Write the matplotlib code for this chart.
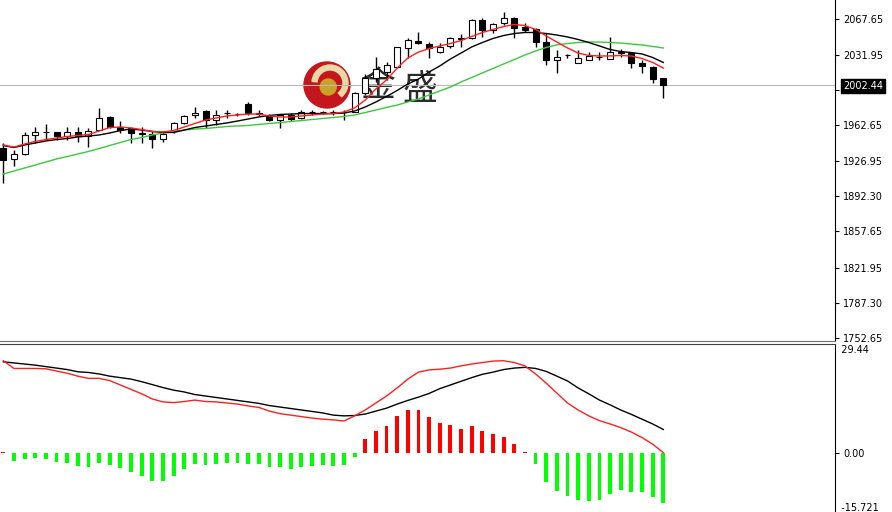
import numpy as np
import matplotlib.pyplot as plt
from matplotlib.patches import Circle, Wedge

# daily candles (price)
opens = [1940.1, 1929.3, 1933.9, 1953.0, 1955.7, 1955.7, 1952.0, 1956.3, 1952.3, 1957.9,
         1970.5, 1961.2, 1960.2, 1954.0, 1953.7, 1948.7, 1957.0, 1964.5, 1972.8, 1977.0,
         1967.8, 1974.5, 1973.5, 1983.3, 1974.5, 1971.8, 1967.8, 1972.8, 1969.5, 1975.4,
         1975.4, 1976.0, 1975.4, 1976.0, 1994.2, 2009.3, 2015.6, 2020.5, 2038.7, 2045.9,
         2042.6, 2035.3, 2041.3, 2048.0, 2048.6, 2066.7, 2056.8, 2063.4, 2068.3, 2060.0,
         2057.8, 2045.2, 2027.0, 2031.8, 2024.5, 2027.1, 2029.6, 2027.8, 2035.3, 2033.7,
         2024.5, 2020.5, 2009.0]
highs = [1945.1, 1938.2, 1955.7, 1960.6, 1963.9, 1956.3, 1960.6, 1961.2, 1959.6, 1980.0,
         1972.0, 1967.1, 1961.2, 1961.2, 1957.0, 1956.3, 1966.1, 1972.5, 1980.9, 1977.5,
         1977.7, 1977.7, 1975.0, 1985.3, 1977.7, 1973.8, 1973.5, 1974.5, 1977.7, 1977.7,
         1976.5, 1977.7, 1977.7, 1995.8, 2013.3, 2030.4, 2025.4, 2040.3, 2048.6, 2055.1,
         2044.6, 2043.6, 2050.2, 2052.5, 2067.6, 2068.3, 2063.4, 2074.9, 2070.0, 2063.4,
         2058.4, 2053.8, 2036.9, 2032.7, 2037.0, 2035.3, 2035.3, 2050.2, 2037.7, 2035.3,
         2027.1, 2021.2, 2009.0]
lows = [1905.5, 1922.6, 1933.0, 1944.8, 1948.0, 1948.0, 1948.0, 1946.4, 1941.4, 1957.9,
        1960.0, 1954.7, 1944.8, 1944.8, 1939.9, 1946.4, 1954.7, 1963.9, 1969.5, 1959.6,
        1962.9, 1969.5, 1971.5, 1972.8, 1971.8, 1966.8, 1959.6, 1967.1, 1968.5, 1972.8,
        1973.8, 1972.8, 1967.8, 1975.4, 1992.5, 2005.0, 2007.4, 2018.9, 2028.8, 2042.6,
        2028.8, 2033.7, 2038.7, 2040.3, 2047.9, 2050.2, 2053.5, 2061.7, 2048.6, 2055.1,
        2040.3, 2022.2, 2013.9, 2029.4, 2024.5, 2027.1, 2027.1, 2027.8, 2029.8, 2018.9,
        2014.0, 2004.7, 1989.3]
closes = [1928.3, 1933.9, 1953.0, 1955.7, 1956.0, 1952.0, 1955.7, 1952.3, 1956.9, 1969.5,
          1961.2, 1957.9, 1954.7, 1955.0, 1948.7, 1953.7, 1965.2, 1971.8, 1975.0, 1967.8,
          1972.8, 1974.7, 1973.7, 1974.5, 1973.5, 1967.8, 1972.8, 1968.8, 1975.4, 1975.6,
          1975.6, 1975.8, 1975.6, 1994.2, 2009.3, 2018.0, 2022.2, 2039.7, 2046.9, 2043.6,
          2038.7, 2040.3, 2048.6, 2049.0, 2066.7, 2056.8, 2062.7, 2068.3, 2058.4, 2056.8,
          2045.2, 2027.0, 2030.4, 2032.2, 2028.8, 2031.0, 2030.0, 2035.3, 2033.7, 2023.8,
          2021.2, 2008.0, 2002.44]

# moving averages
ma_red = [1943.1, 1941.1, 1944.1, 1946.6, 1948.5, 1950.0, 1951.5, 1952.5, 1953.5, 1956.9,
          1960.4, 1960.9, 1959.9, 1958.4, 1956.5, 1956.0, 1957.4, 1960.9, 1964.4, 1967.8,
          1969.8, 1971.8, 1972.8, 1973.7, 1973.7, 1971.8, 1970.8, 1970.8, 1971.8, 1972.8,
          1973.7, 1974.2, 1975.7, 1979.7, 1987.6, 1998.5, 2007.4, 2019.2, 2029.1, 2035.0,
          2038.5, 2041.0, 2043.4, 2046.4, 2050.4, 2054.3, 2057.3, 2060.2, 2062.2, 2061.2,
          2057.3, 2050.9, 2044.9, 2039.0, 2034.0, 2031.6, 2031.1, 2031.1, 2031.6, 2031.1,
          2028.6, 2024.7, 2019.2]
ma_black = [1942.6, 1940.6, 1943.1, 1945.1, 1947.1, 1948.5, 1949.5, 1951.0, 1952.0, 1953.0,
            1955.0, 1957.4, 1958.9, 1957.9, 1956.5, 1955.5, 1955.5, 1957.9, 1960.4, 1961.9,
            1963.4, 1964.9, 1966.8, 1968.8, 1970.8, 1972.3, 1973.3, 1973.7, 1974.2, 1974.2,
            1974.2, 1974.2, 1974.7, 1976.7, 1980.7, 1985.6, 1991.1, 1997.0, 2003.4, 2008.3,
            2015.3, 2021.2, 2028.1, 2034.0, 2040.0, 2044.4, 2048.4, 2051.3, 2053.3, 2054.3,
            2054.3, 2053.3, 2051.8, 2049.9, 2047.4, 2044.4, 2041.0, 2037.5, 2035.5, 2034.5,
            2033.1, 2029.6, 2024.7]
ma_green = [1914.4, 1917.4, 1920.4, 1923.3, 1926.3, 1929.3, 1931.7, 1934.2, 1936.7, 1939.6,
            1942.6, 1945.6, 1948.5, 1950.5, 1953.0, 1955.0, 1956.5, 1957.9, 1958.9, 1959.4,
            1960.4, 1961.4, 1961.9, 1962.4, 1963.4, 1964.4, 1965.3, 1966.3, 1967.3, 1968.3,
            1969.3, 1970.3, 1971.3, 1972.8, 1975.2, 1977.7, 1980.2, 1982.6, 1985.6, 1988.6,
            1992.5, 1996.5, 2000.4, 2005.4, 2009.8, 2014.3, 2018.7, 2023.2, 2027.6, 2032.1,
            2036.0, 2039.5, 2042.0, 2043.4, 2044.4, 2044.9, 2044.9, 2044.4, 2043.9, 2042.9,
            2042.0, 2040.5, 2039.0]

# MACD panel
macd_hist = [0.3, -2.1, -1.6, -1.4, -1.6, -2.4, -2.6, -3.5, -3.9, -2.7,
             -3.3, -4.2, -5.3, -6.2, -7.5, -7.6, -6.2, -4.4, -3.0, -3.3,
             -3.0, -2.6, -2.6, -3.0, -3.1, -3.9, -3.9, -4.4, -3.9, -3.5,
             -3.3, -3.5, -3.3, -1.0, 3.7, 6.0, 7.4, 10.1, 11.7, 11.7,
             9.7, 8.2, 7.6, 6.5, 7.3, 6.0, 5.1, 4.4, 2.4, 0.3,
             -3.1, -7.8, -10.3, -11.7, -12.8, -13.0, -12.8, -11.2, -10.1, -10.7,
             -10.7, -12.1, -13.5]
macd_black = [24.8, 24.5, 24.2, 23.9, 23.5, 23.1, 22.7, 22.1, 21.9, 21.5,
              20.9, 20.5, 20.1, 19.4, 18.6, 17.8, 17.1, 16.6, 15.9, 15.5,
              15.1, 14.7, 14.3, 13.9, 13.5, 12.9, 12.5, 12.1, 11.7, 11.3,
              10.9, 10.3, 10.1, 10.2, 10.6, 11.4, 12.2, 13.3, 14.3, 15.2,
              16.2, 17.5, 18.5, 19.5, 20.5, 21.4, 22.0, 22.7, 23.1, 23.3,
              23.0, 22.2, 20.9, 19.6, 17.7, 16.1, 14.4, 13.1, 11.7, 10.5,
              9.2, 7.9, 6.4]
macd_red = [25.1, 23.0, 23.0, 23.0, 22.9, 22.3, 21.7, 20.9, 20.3, 20.3,
            19.7, 18.5, 17.3, 16.1, 14.7, 13.9, 13.7, 14.0, 14.4, 14.0,
            13.9, 13.6, 13.3, 12.8, 12.4, 11.4, 10.7, 10.3, 9.9, 9.5,
            9.2, 9.0, 8.7, 10.1, 11.7, 13.6, 15.5, 17.7, 20.1, 22.0,
            22.6, 22.8, 23.1, 23.7, 24.2, 24.6, 25.0, 25.1, 24.6, 23.7,
            21.5, 19.0, 16.3, 13.6, 11.7, 10.1, 8.8, 7.9, 6.9, 5.7,
            4.2, 2.4, 0.1]

price_ticks = [2067.65, 2031.95, 1997.30, 1962.65, 1926.95, 1892.30, 1857.65, 1821.95, 1787.30, 1752.65]
last_price = 2002.44

x = np.arange(len(closes))
o = np.array(opens)
c = np.array(closes)

fig = plt.figure(figsize=(8.92, 5.12), dpi=100, facecolor='white')

# watermark (behind the chart)
logo = fig.add_axes([302 / 892, (512 - 110) / 512, 50 / 892, 50 / 512], zorder=-2)
logo.set_xlim(-1, 1)
logo.set_ylim(-1, 1)
logo.axis('off')
logo.add_patch(Circle((0, 0), 0.92, color='#c4161c'))
logo.add_patch(Wedge((0.12, 0.08), 0.72, -50, 175, width=0.2, color='#e9d9a6'))
logo.add_patch(Circle((0.05, -0.08), 0.32, color='#c9a227'))
fig.text(378 / 892, 1 - 87 / 512, '金', fontsize=25, family=['Noto Sans CJK SC'],
         color='#2b2b2b', ha='center', va='center', zorder=-1)
fig.text(420 / 892, 1 - 89 / 512, '盛', fontsize=25, family=['Noto Sans CJK SC'],
         color='#2b2b2b', ha='center', va='center', zorder=-1)

ax = fig.add_axes([0, 171 / 512, 835 / 892, 341 / 512], facecolor='none')
ax2 = fig.add_axes([0, 1 / 512, 835 / 892, 167 / 512], facecolor='none')

# price panel
ax.axhline(last_price, color='#b8b8b8', lw=0.8, zorder=1)
ax.plot(x, ma_green, color='#3cc83c', lw=1, zorder=4)
ax.plot(x, ma_black, color='black', lw=1, zorder=4)
ax.plot(x, ma_red, color='#ff2020', lw=1, zorder=4)
ax.vlines(x, lows, highs, color='black', lw=1, zorder=2)
body_col = ['white' if cc >= oo else 'black' for oo, cc in zip(o, c)]
ax.bar(x, np.abs(c - o), bottom=np.minimum(o, c), width=0.56, color=body_col,
       edgecolor='black', linewidth=0.8, zorder=3)

ax.set_xlim(-0.31, 78.13)
ax.set_ylim(1749.37, 2086.43)
ax.set_xticks([])
ax.yaxis.tick_right()
ax.set_yticks(price_ticks)
ax.set_yticklabels([f'{t:.2f}' for t in price_ticks])
for s in ['top', 'left']:
    ax.spines[s].set_visible(False)
ax.spines['right'].set_color('black')
ax.spines['bottom'].set_color('#707070')
ax.tick_params(axis='y', direction='out', length=3, width=0.8, pad=3, labelsize=7, colors='black')

fig.text(843 / 892, 1 - 86 / 512, f'{last_price:.2f}', fontsize=7, color='white',
         ha='left', va='center', zorder=5,
         bbox=dict(facecolor='black', edgecolor='black', pad=1.2))

# MACD panel
hcol = ['#ff0000' if v > 0 else '#00ff00' for v in macd_hist]
ax2.bar(x, macd_hist, width=0.36, color=hcol, linewidth=0, zorder=2)
ax2.plot(x, macd_black, color='black', lw=1, zorder=3)
ax2.plot(x, macd_red, color='#ff2020', lw=1, zorder=3)
ax2.set_xlim(-0.31, 78.13)
ax2.set_ylim(-15.78, 29.65)
ax2.set_xticks([])
ax2.yaxis.tick_right()
ax2.set_yticks([0])
ax2.set_yticklabels(['0.00'])
for s in ['bottom', 'left']:
    ax2.spines[s].set_visible(False)
ax2.spines['top'].set_color('#404040')
ax2.spines['right'].set_color('black')
ax2.tick_params(axis='y', direction='out', length=3, width=0.8, pad=3, labelsize=7, colors='black')
tr = ax2.get_yaxis_transform()
ax2.text(1.0, 29.44, '  29.44', transform=tr, fontsize=7, ha='left', va='top', clip_on=False)
ax2.text(1.0, -14.9, '  -15.721', transform=tr, fontsize=7, ha='left', va='center', clip_on=False)

fig.savefig('out.png', dpi=100, facecolor='white')
